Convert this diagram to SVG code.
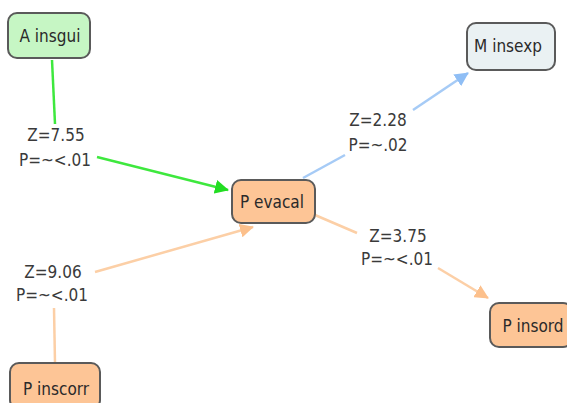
<svg xmlns="http://www.w3.org/2000/svg" width="567" height="403" viewBox="0 0 567 403">
<style>
.node rect{stroke:#5a5a5a;stroke-width:2}
.node text{font-family:"DejaVu Sans Condensed","DejaVu Sans",sans-serif;font-size:17px;fill:#2a2a2a;text-anchor:middle}
.lbl{font-family:"DejaVu Sans Condensed","DejaVu Sans",sans-serif;font-size:17px;fill:#3a3a3a;text-anchor:middle}
.e{fill:none;stroke-width:2.5}
.g{stroke:#3ee83e}
.b{stroke:#a6cbf6}
.o{stroke:#fccfa6}
</style>
<defs>
<marker id="ag" markerWidth="14" markerHeight="14" refX="13" refY="7" orient="auto" markerUnits="userSpaceOnUse"><path d="M0,0 L14,7 L0,14 Z" fill="#22dd22"/></marker>
<marker id="ab" markerWidth="14" markerHeight="14" refX="13" refY="7" orient="auto" markerUnits="userSpaceOnUse"><path d="M0,0 L14,7 L0,14 Z" fill="#8fbef5"/></marker>
<marker id="ao" markerWidth="14" markerHeight="14" refX="13" refY="7" orient="auto" markerUnits="userSpaceOnUse"><path d="M0,0 L14,7 L0,14 Z" fill="#fcc08c"/></marker>
</defs>
<rect width="567" height="403" fill="#ffffff"/>
<g id="connectors">
<line class="e g" x1="52" y1="60" x2="55" y2="124"/>
<line class="e g" x1="97" y1="157" x2="228" y2="190" marker-end="url(#ag)"/>
<line class="e b" x1="303" y1="178" x2="345" y2="155"/>
<line class="e b" x1="413" y1="110" x2="468" y2="73" marker-end="url(#ab)"/>
<line class="e o" x1="315" y1="215" x2="357" y2="233"/>
<line class="e o" x1="438" y1="268" x2="488" y2="298" marker-end="url(#ao)"/>
<line class="e o" x1="55" y1="363" x2="54" y2="308"/>
<line class="e o" x1="95" y1="272" x2="253" y2="227" marker-end="url(#ao)"/>
<text class="lbl" x="56" y="141">Z=7.55</text>
<text class="lbl" x="55" y="166">P=~&lt;.01</text>
<text class="lbl" x="378" y="126">Z=2.28</text>
<text class="lbl" x="378" y="151">P=~.02</text>
<text class="lbl" x="398" y="242">Z=3.75</text>
<text class="lbl" x="397" y="265">P=~&lt;.01</text>
<text class="lbl" x="53" y="278">Z=9.06</text>
<text class="lbl" x="52" y="301">P=~&lt;.01</text>
</g>
<g id="A_insgui" class="node"><rect x="8" y="13" width="82" height="45" rx="9" fill="#c6f6c4"/><text x="50" y="42">A insgui</text></g>
<g id="M_insexp" class="node"><rect x="467" y="23" width="88" height="47" rx="9" fill="#eaf1f3"/><text x="508" y="52">M insexp</text></g>
<g id="P_evacal" class="node"><rect x="232" y="180" width="83" height="43" rx="9" fill="#fdc596"/><text x="272" y="208">P evacal</text></g>
<g id="P_insord" class="node"><rect x="490" y="303" width="82" height="44" rx="9" fill="#fdc596"/><text x="533" y="332">P insord</text></g>
<g id="P_inscorr" class="node"><rect x="10" y="363" width="90" height="46" rx="9" fill="#fdc596"/><text x="56" y="395">P inscorr</text></g>
</svg>
